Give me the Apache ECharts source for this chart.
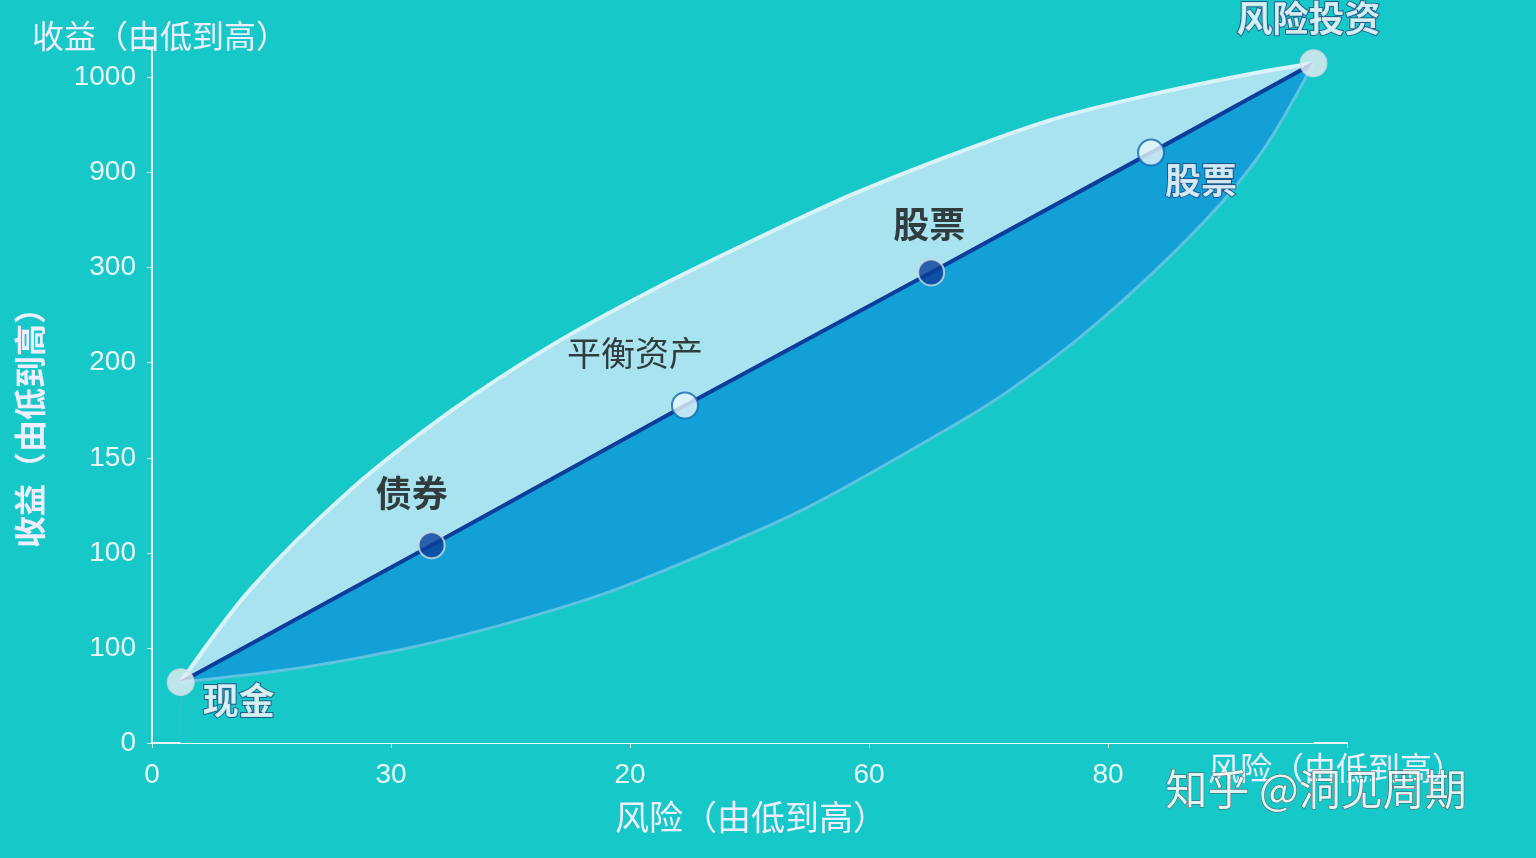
<!DOCTYPE html><html><head><meta charset="utf-8"><script src="https://cdn.jsdelivr.net/npm/echarts@6/dist/echarts.min.js"></script>
<style>html,body{margin:0;height:100%;background:#17c8c8}#c{width:1536px;height:858px}</style></head><body><div id="c"></div><script>
const xTickLabels=["0","30","20","60","80",""];
const yTickLabels=["0","100","100","150","200","300","900","1000"];
const upperCurve=[[0.12,0.64],[0.41,1.61],[0.83,2.66],[1.25,3.49],[1.67,4.18],[2.09,4.76],[2.51,5.28],[2.93,5.77],[3.35,6.19],[3.77,6.56],[4.18,6.82],[4.60,7.04],[4.86,7.15]];
const lowerCurve=[[0.12,0.64],[0.62,0.79],[1.04,0.98],[1.46,1.24],[1.88,1.56],[2.30,1.98],[2.72,2.45],[3.14,3.03],[3.56,3.66],[3.97,4.45],[4.39,5.45],[4.65,6.24],[4.86,7.15]];
const linePts=[[0.12,0.64],[1.17,2.08],[2.23,3.55],[3.26,4.95],[4.18,6.21],[4.86,7.15]];
const pointNames=["现金","债券","平衡资产","股票","股票","风险投资"];
const pointColors=["#e6eef2","#0a3f98","#e8f6fb","#0a3f98","#e8f6fb","#e6eef2"];
const labelPos=[[58,18],[-20,-52],[-50,-52],[-2,-48],[50,28],[-5,-45]];
const bg="#17c8c8";
const ch=echarts.init(document.getElementById('c'));
const txt={fontFamily:'Noto Sans CJK SC'};
ch.setOption({backgroundColor:bg,animation:false,
grid:{left:152,right:189,top:49,bottom:115},
xAxis:{type:'value',min:0,max:5,interval:1,splitLine:{show:false},
 axisLine:{lineStyle:{color:'#e8f8f8',width:2}},axisTick:{show:true,lineStyle:{color:'#e8f8f8'}},
 axisLabel:{color:'#e8f8f8',fontSize:28,margin:18,formatter:v=>xTickLabels[v]||''}},
yAxis:{type:'value',min:0,max:7.3,interval:1,splitLine:{show:false},
 axisLine:{show:true,lineStyle:{color:'#e8f8f8',width:2}},axisTick:{show:true,lineStyle:{color:'#e8f8f8'}},
 axisLabel:{color:'#e8f8f8',fontSize:28,margin:16,formatter:v=>Number.isInteger(v)?(yTickLabels[v]||''):''}},
series:[
{type:'line',data:upperCurve,smooth:0.3,symbol:'none',lineStyle:{color:'#d8f4fa',width:4},areaStyle:{color:'#a9e3f0',opacity:1},z:1},
{type:'line',data:linePts,symbol:'none',lineStyle:{color:'#0d3d9a',width:4},areaStyle:{color:'#13a0d6',opacity:1},z:2},
{type:'line',data:lowerCurve,smooth:0.3,symbol:'none',lineStyle:{color:'#5cc3e0',width:3},areaStyle:{color:bg,opacity:1},z:3},
{type:'scatter',z:5,symbolSize:26,data:linePts.map((p,i)=>({value:p,itemStyle:{color:pointColors[i],borderColor:i==2||i==4?'#1268b8':'#d0dde4',borderWidth:2},
 label:{show:true,formatter:pointNames[i],offset:labelPos[i],fontSize:i==2?34:36,fontWeight:i==2?'normal':'bold',
 color:(i==1||i==3||i==2)?'#111':'#fff',textBorderColor:(i==1||i==3||i==2)?'transparent':'#1a4a80',textBorderWidth:2,...txt}}))}
],
graphic:[
{type:'text',left:32,top:20,style:{text:'收益（由低到高）',fontSize:32,fill:'#eef',...txt}},
{type:'text',left:14,top:292,rotation:Math.PI/2,style:{text:'收益（由低到高）',fontSize:32,fontWeight:'bold',fill:'#eef',...txt}},
{type:'text',left:615,top:800,style:{text:'风险（由低到高）',fontSize:34,fill:'#eef',...txt}},
{type:'text',left:1208,top:752,style:{text:'风险（由低到高）',fontSize:32,fill:'#eef',...txt}},
{type:'text',left:730,top:400,style:{text:'中',fontSize:36,fontWeight:'bold',fill:'#fff',stroke:'#1a4a80',lineWidth:2,...txt}},
{type:'text',left:1165,top:768,style:{text:'知乎 @洞见周期',fontSize:42,fill:'rgba(255,255,255,0.85)',stroke:'#555',lineWidth:1,...txt}}
]});
</script></body></html>
